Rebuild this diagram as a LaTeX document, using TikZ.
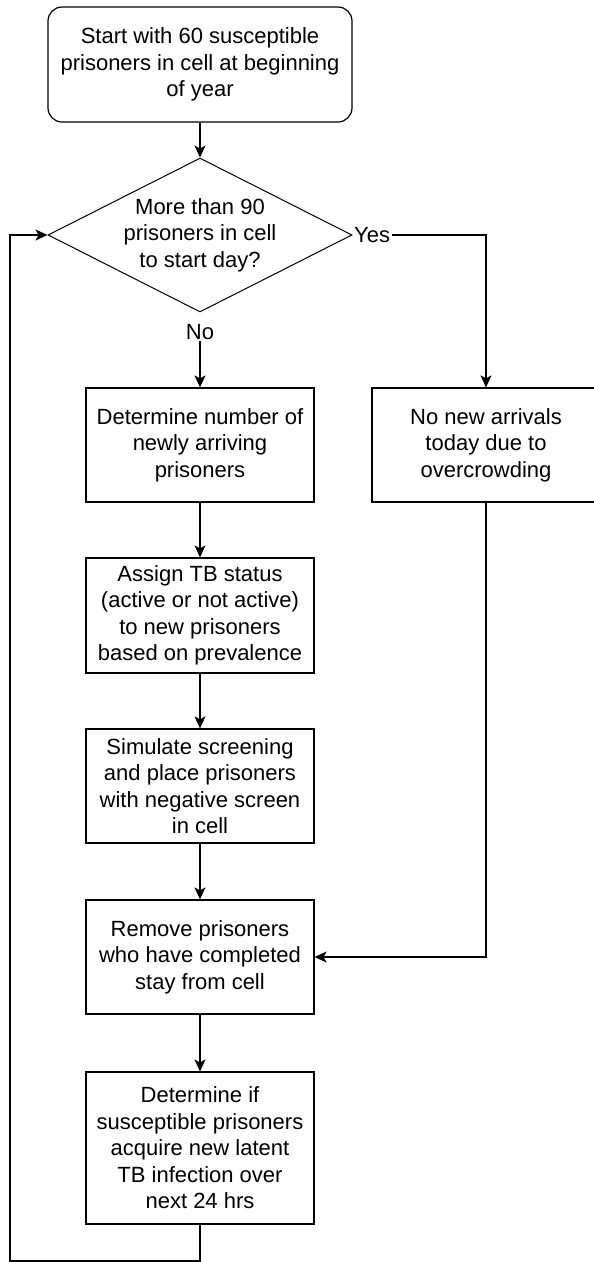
\documentclass[tikz,border=0pt]{standalone}
\usepackage{fontspec}
\setmainfont{Liberation Sans}
\usepackage{tikz}
\usetikzlibrary{
  positioning,
  shapes.geometric,
  arrows.meta
}

\begin{document}
\begin{tikzpicture}[x=1pt,y=-1pt,
  font=\fontsize{22}{26.5}\selectfont,
  proc/.style={draw,line width=1.2pt,minimum width=228pt,minimum height=114pt,inner sep=0pt,align=center},
  startbox/.style={proc,rounded corners=14pt,minimum width=304pt,minimum height=115pt},
  decision/.style={draw,diamond,aspect=2,line width=1pt,minimum width=304pt,minimum height=154pt,inner sep=0pt,align=center},
  arr/.style={-{Stealth[length=12pt,width=11pt,inset=3pt]},line width=1.2pt},
  lbl/.style={inner sep=1.5pt}]
  % 描画範囲
  \clip (0,0) rectangle (594,1262);
  % 開始
  \node[startbox] (start) at (200,64.5) {Start with 60 susceptible\\prisoners in cell at beginning\\of year};
  % 判定
  \node[decision] (dec) at (200,235) {More than 90\\prisoners in cell\\to start day?};
  \node[lbl,anchor=west] (yes) at (dec.east) {Yes};
  \node[lbl] (no) at (200,332) {No};
  % 処理
  \node[proc] (arrive) at (200,445) {Determine number of\\newly arriving\\prisoners};
  \node[proc] (noarr) at (486,445) {No new arrivals\\today due to\\overcrowding};
  \node[proc,minimum height=115pt] (assign) at (200,615.5) {Assign TB status\\(active or not active)\\to new prisoners\\based on prevalence};
  \node[proc] (screen) at (200,786) {Simulate screening\\and place prisoners\\with negative screen\\in cell};
  \node[proc] (remove) at (200,957) {Remove prisoners\\who have completed\\stay from cell};
  \node[proc,minimum height=152pt] (infect) at (200,1148) {Determine if\\susceptible prisoners\\acquire new latent\\TB infection over\\next 24 hrs};
  \coordinate (loop) at (10,1261);
  % 矢印
  \draw[arr] (start) -- (dec);
  \draw[arr] (yes.east) -| (noarr.north);
  \draw[arr] (no) -- (arrive);
  \draw[arr] (arrive) -- (assign);
  \draw[arr] (assign) -- (screen);
  \draw[arr] (screen) -- (remove);
  \draw[arr] (remove) -- (infect);
  \draw[arr] (noarr) |- (remove);
  \draw[arr] (infect) |- (loop) |- (dec.west);
\end{tikzpicture}
\end{document}
